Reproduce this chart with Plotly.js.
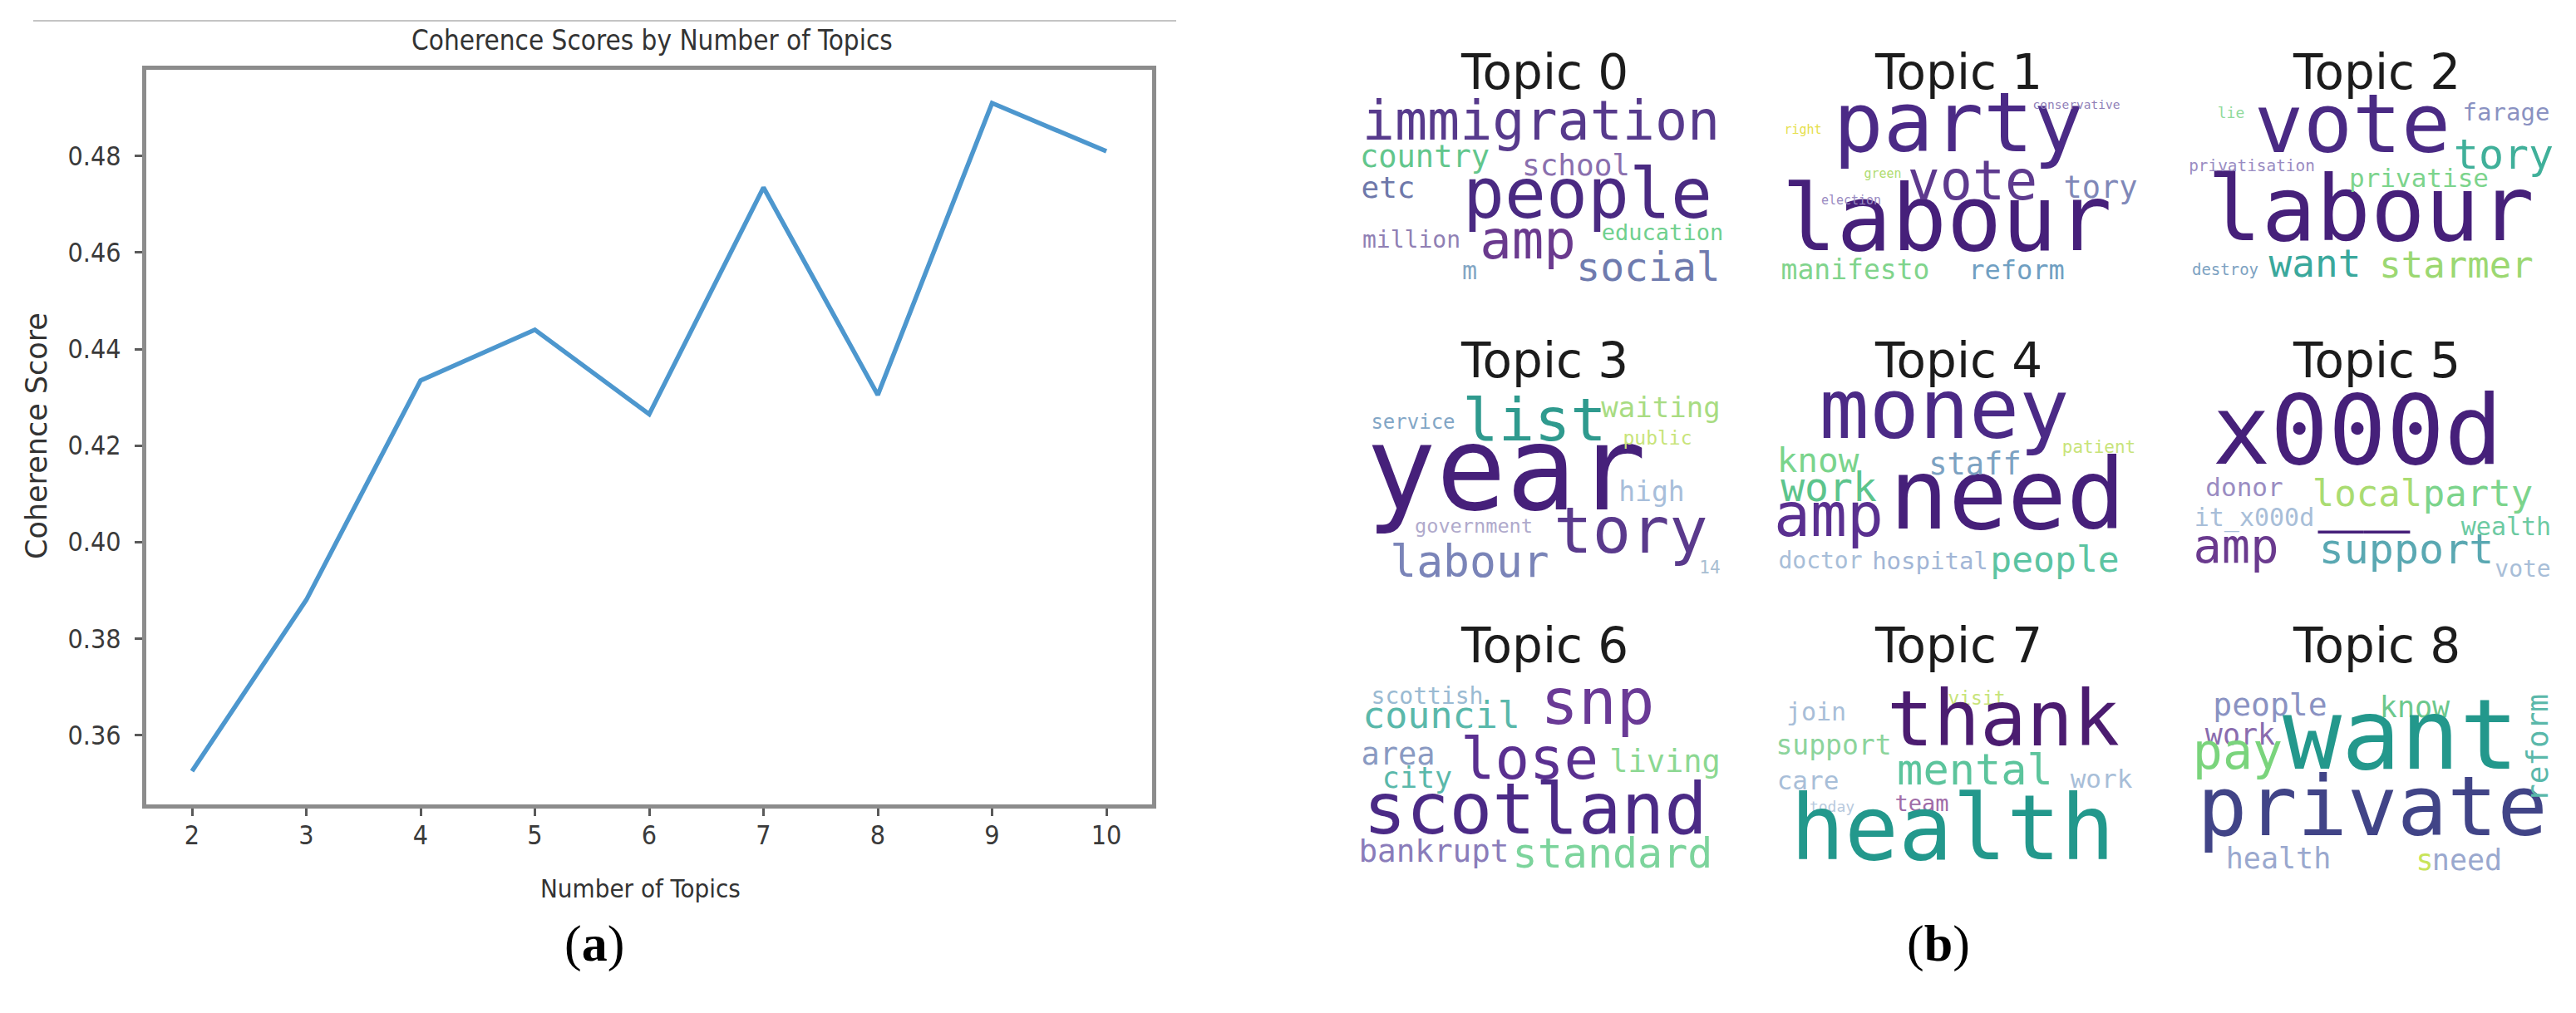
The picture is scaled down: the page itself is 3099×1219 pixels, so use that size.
<!DOCTYPE html>
<html>
<head>
<meta charset="utf-8">
<script src="https://cdn.plot.ly/plotly-3.0.1.min.js"></script>
<style>
  html, body { margin: 0; padding: 0; background: #ffffff; }
  #chart { width: 3099px; height: 1219px; }
</style>
</head>
<body>
<div id="chart"></div>
<script>
// ---------------- data: panel (a) ----------------
const numTopics = [2, 3, 4, 5, 6, 7, 8, 9, 10];
const coherenceScores = [0.3525, 0.388, 0.4335, 0.444, 0.4265, 0.4735, 0.4305, 0.491, 0.481];
const yTickVals = [0.36, 0.38, 0.40, 0.42, 0.44, 0.46, 0.48];
const chartTitle = 'Coherence Scores by Number of Topics';
const xTitle = 'Number of Topics';
const yTitle = 'Coherence Score';

// ---------------- data: panel (b) word clouds ----------------
const topicTitles = ['Topic 0', 'Topic 1', 'Topic 2', 'Topic 3', 'Topic 4', 'Topic 5', 'Topic 6', 'Topic 7', 'Topic 8'];
const topic0Words = ['immigration', 'country', 'school', 'etc', 'people', 'million', 'amp', 'education', 'social', 'm'];
const topic1Words = ['party', 'labour', 'vote', 'tory', 'manifesto', 'reform', 'right', 'conservative', 'green', 'election'];
const topic2Words = ['vote', 'labour', 'farage', 'tory', 'lie', 'privatisation', 'privatise', 'destroy', 'want', 'starmer'];
const topic3Words = ['year', 'list', 'service', 'waiting', 'public', 'high', 'government', 'tory', 'labour', '14'];
const topic4Words = ['money', 'need', 'know', 'staff', 'patient', 'work', 'amp', 'doctor', 'hospital', 'people'];
const topic5Words = ['x000d', 'donor', 'local', 'party', '__', 'it_x000d', 'amp', 'support', 'wealth', 'vote'];
const topic6Words = ['scottish', 'council', 'snp', 'area', 'lose', 'living', 'city', 'scotland', 'bankrupt', 'standard'];
const topic7Words = ['join', 'visit', 'thank', 'support', 'care', 'today', 'mental', 'work', 'team', 'health'];
const topic8Words = ['people', 'know', 'reform', 'work', 'want', 'pay', 'private', 'health', 's', 'need'];

// ---------------- word-cloud placement (layout, in cloud canvas px): [x, y, size, colour, angle] ----------------
const topic0Place = [[221,32,65,'#573a8c'],[81,72,37,'#62c68c'],[263,82,36,'#8a6fae'],[37,109,36,'#6e78aa'],[277,121,83,'#4a2a82'],[65,171,28,'#9080b4'],[205,175,64,'#6a3a8e'],[367,162,27,'#6fd08e'],[350,206,48,'#6f7bae'],[135,208,30,'#82a6c4']];
const topic1Place = [[225,37,100,'#4b2a86'],[211,153,110,'#46207a'],[242,104,65,'#5e3a8e'],[396,109,37,'#8088b8'],[101,208,33,'#80d48c'],[295,208,32,'#709fc2'],[38,37,15,'#e6e04c'],[367,7,14.5,'#9080b8'],[134,90,15,'#b0dc70'],[96,122,15,'#9a8cc2']];
const topic2Place = [[196,38,98,'#4a2a84'],[218,142,109,'#46207a'],[381,18,29,'#8a92c2'],[378,70,50,'#40b09a'],[50,17,18,'#90da9c'],[75,81,19.4,'#9a8cc2'],[276,97,31,'#7cd48c'],[43,206,19,'#7ca2c2'],[151,201,46,'#3aa89c'],[321,203,44,'#9cd872']];
const topic3Place = [[179,103,140,'#46207a'],[213,37,72,'#2f9a8e'],[67,35,24,'#82a6c6'],[365,18,34,'#a8dc82'],[361,54,23,'#c8e47a'],[354,120,33,'#a8beda'],[140,160,23.6,'#b0aacc'],[329,171,77,'#5a3a8c'],[135,206,53,'#7a84b8'],[424,210,21,'#a8bed2']];
const topic4Place = [[208,27,100,'#4b2a86'],[284,131,118,'#46207a'],[56,83,41,'#7ad48c'],[245,87,37,'#7ca2c2'],[394,65,21,'#c8e47a'],[69,116,48,'#5cc48c'],[69,152,73,'#5a3090'],[59,202,28,'#a8bed8'],[191,203,29,'#a2b6d6'],[341,202,43,'#5cc4a2']];
const topic5Place = [[202,54,116,'#46207a'],[66,114,31,'#9a8cc2'],[214,123,44,'#aadc72'],[347,123,44,'#7cd48c'],[210,122,92,'#46207a'],[78,150,30,'#a8bed8'],[56,188,57,'#6a3a8e'],[261,190,50,'#5aa8b2'],[381,161,30,'#6ccaa2'],[401,212,28,'#a8bed8']];
const topic6Place = [[84,9,28,'#9abad2'],[101,34,45,'#5ab8aa'],[289,21,76,'#6a3a96'],[49,80,37,'#8a9ac2'],[207,89,69,'#5a3090'],[370,89,37,'#8cd892'],[72,108,35,'#5ab8aa'],[214,150,86,'#4b2a86'],[92,197,37.6,'#8a7cba'],[307,200,50,'#7cd49c']];
const topic7Place = [[54,28,30,'#a8bed8'],[247,11,23,'#c8e47a'],[279,43,93,'#4b1c70'],[75,69,33,'#8cd49c'],[44,111,31,'#a8bed8'],[73,141,18,'#b8cade'],[245,100,52,'#5cc49c'],[397,109,31,'#a8bed8'],[181,138,27,'#a06ca8'],[218,176,108,'#23988c']];
const topic8Place = [[97,20,38,'#8a92c2'],[271,23,35,'#6cc88c'],[418,69,36,'#5ab8aa',-90],[61,56,35,'#8a6cae'],[254,64,118,'#23988c'],[58,79,60,'#7ad47c'],[220,149,100,'#414487'],[107,205,35,'#9aa8ce'],[283,207,35,'#c8e45a'],[334,207,35,'#9aa8ce']];

const allWords = [topic0Words, topic1Words, topic2Words, topic3Words, topic4Words, topic5Words, topic6Words, topic7Words, topic8Words];
const allPlace = [topic0Place, topic1Place, topic2Place, topic3Place, topic4Place, topic5Place, topic6Place, topic7Place, topic8Place];

// ---------------- geometry ----------------
const W = 3099, H = 1219;
const px = v => v / W;
const py = v => 1 - v / H;
const plotL = 176, plotR = 1386, plotT = 84, plotB = 968;
const cloudLefts = [1633, 2131, 2634];
const cloudTops = [120, 475, 831];
const cloudW = 450, cloudH = 225;
const titleCenters = [87, 434, 777];

const SANS = 'DejaVu Sans, Verdana, sans-serif';
const SANSC = 'DejaVu Sans Condensed, DejaVu Sans, sans-serif';
const MONO = 'DejaVu Sans Mono, monospace';
const SERIF = 'Liberation Serif, Times New Roman, serif';

const traces = [{
  type: 'scatter', mode: 'lines', x: numTopics, y: coherenceScores,
  xaxis: 'x', yaxis: 'y',
  line: { color: '#4d97ce', width: 5.5 },
  hoverinfo: 'skip', showlegend: false
}];

const layout = {
  width: W, height: H,
  margin: { l: 0, r: 0, t: 0, b: 0, pad: 0 },
  paper_bgcolor: '#ffffff', plot_bgcolor: '#ffffff',
  showlegend: false,
  xaxis: {
    domain: [px(plotL), px(plotR)], range: [1.6, 10.4],
    tickvals: numTopics, ticks: 'outside', ticklen: 9, tickwidth: 3, tickcolor: '#5a5a5a',
    showline: true, mirror: true, linecolor: '#8c8c8c', linewidth: 5,
    showgrid: false, zeroline: false, ticklabelstandoff: -4,
    tickfont: { family: SANSC, size: 32, color: '#3a3a3a' }
  },
  yaxis: {
    domain: [py(plotB), py(plotT)], range: [0.3456, 0.4979],
    tickvals: yTickVals, tickformat: '.2f', ticks: 'outside', ticklen: 9, tickwidth: 3, tickcolor: '#5a5a5a',
    showline: true, mirror: true, linecolor: '#8c8c8c', linewidth: 5,
    showgrid: false, zeroline: false, ticklabelstandoff: 10,
    tickfont: { family: SANSC, size: 32, color: '#3a3a3a' }
  },
  shapes: [{
    type: 'line', xref: 'paper', yref: 'paper',
    x0: px(40), x1: px(1415), y0: py(25), y1: py(25),
    line: { color: '#c4c4c4', width: 2 }
  }],
  annotations: [
    { text: chartTitle, xref: 'paper', yref: 'paper', x: px(784), y: py(48), xanchor: 'center', yanchor: 'middle', showarrow: false, font: { family: SANSC, size: 33, color: '#333333' } },
    { text: xTitle, xref: 'paper', yref: 'paper', x: px(770), y: py(1069), xanchor: 'center', yanchor: 'middle', showarrow: false, font: { family: SANSC, size: 31, color: '#333333' } },
    { text: yTitle, xref: 'paper', yref: 'paper', x: px(44), y: py(525), xanchor: 'center', yanchor: 'middle', textangle: -90, showarrow: false, font: { family: SANS, size: 35, color: '#333333' } },
    { text: '(<b>a</b>)', xref: 'paper', yref: 'paper', x: px(715), y: py(1135), xanchor: 'center', yanchor: 'middle', showarrow: false, font: { family: SERIF, size: 62, color: '#000000' } },
    { text: '(<b>b</b>)', xref: 'paper', yref: 'paper', x: px(2332), y: py(1135), xanchor: 'center', yanchor: 'middle', showarrow: false, font: { family: SERIF, size: 62, color: '#000000' } }
  ]
};

for (let i = 0; i < 9; i++) {
  const n = i + 2;
  const col = i % 3, row = Math.floor(i / 3);
  const L = cloudLefts[col], T = cloudTops[row];
  layout['xaxis' + n] = { domain: [px(L), px(L + cloudW)], range: [0, cloudW], visible: false, fixedrange: true, anchor: 'y' + n };
  layout['yaxis' + n] = { domain: [py(T + cloudH), py(T)], range: [cloudH, 0], visible: false, fixedrange: true, anchor: 'x' + n };

  const words = allWords[i], place = allPlace[i];
  const flat = [], rot = [];
  words.forEach((w, k) => { (place[k][4] ? rot : flat).push([w, place[k]]); });
  traces.push({
    type: 'scatter', mode: 'text', xaxis: 'x' + n, yaxis: 'y' + n,
    x: flat.map(d => d[1][0]), y: flat.map(d => d[1][1]), text: flat.map(d => d[0]),
    textposition: 'middle center', cliponaxis: false,
    textfont: { family: MONO, size: flat.map(d => d[1][2]), color: flat.map(d => d[1][3]) },
    hoverinfo: 'skip', showlegend: false
  });
  rot.forEach(d => {
    layout.annotations.push({
      text: d[0], xref: 'x' + n, yref: 'y' + n, x: d[1][0], y: d[1][1],
      xanchor: 'center', yanchor: 'middle', textangle: d[1][4], showarrow: false,
      font: { family: MONO, size: d[1][2], color: d[1][3] }
    });
  });
  layout.annotations.push({
    text: topicTitles[i], xref: 'paper', yref: 'paper',
    x: px(L + cloudW / 2), y: py(titleCenters[row]),
    xanchor: 'center', yanchor: 'middle', showarrow: false,
    font: { family: SANS, size: 58, color: '#1c1c1c' }
  });
}

Plotly.newPlot('chart', traces, layout, { staticPlot: true, displayModeBar: false });
</script>
</body>
</html>
